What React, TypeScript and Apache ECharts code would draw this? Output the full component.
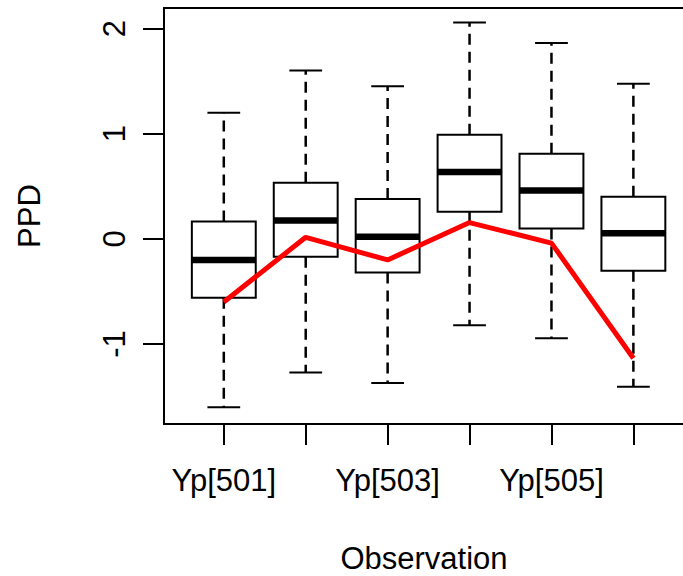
import React, { useEffect, useRef } from "react";
import * as echarts from "echarts";

const categories = ["Yp[501]", "Yp[502]", "Yp[503]", "Yp[504]", "Yp[505]", "Yp[506]"];
const shownLabelPositions = [1, 3, 5];
const positions = [1, 2, 3, 4, 5, 6];
const lowerWhisker = [-1.6, -1.27, -1.37, -0.82, -0.945, -1.405];
const q1 = [-0.56, -0.171, -0.32, 0.257, 0.098, -0.304];
const median = [-0.2, 0.174, 0.02, 0.637, 0.46, 0.054];
const q3 = [0.165, 0.533, 0.38, 0.99, 0.809, 0.4];
const upperWhisker = [1.199, 1.6, 1.45, 2.058, 1.862, 1.475];
const observed = [-0.6, 0.015, -0.2, 0.155, -0.04, -1.135];
const yTicks = [-1, 0, 1, 2];

export default function App() {
  const ref = useRef<HTMLDivElement>(null);
  useEffect(() => {
    if (!ref.current) return;
    const chart = echarts.init(ref.current, undefined, { renderer: "svg" });
    const boxData = positions.map((p, i) => [p, lowerWhisker[i], q1[i], median[i], q3[i], upperWhisker[i]]);
    const lineData = positions.map((p, i) => [p, observed[i]]);
    const boxW = 0.39;
    const capW = 0.2;
    const font = "'Liberation Sans', Arial, sans-serif";
    chart.setOption({
      animation: false,
      backgroundColor: "#fff",
      grid: {
        left: 164, top: 8, right: -11, bottom: 152,
        outerBoundsMode: "none",
        containLabel: false,
        show: true, borderColor: "#000", borderWidth: 2, backgroundColor: "transparent",
      },
      xAxis: {
        type: "value",
        min: 0.27,
        max: 6.74,
        name: "Observation",
        nameLocation: "middle",
        nameGap: 119,
        nameTextStyle: { fontFamily: font, fontSize: 31, color: "#000", padding: [0, 10, 0, 0] },
        axisLine: { show: true, onZero: false, lineStyle: { color: "#000", width: 2 } },
        splitLine: { show: false },
        axisTick: { show: true, customValues: positions, length: 21, lineStyle: { color: "#000", width: 2 } },
        axisLabel: {
          show: true,
          customValues: shownLabelPositions,
          margin: 41,
          fontFamily: font,
          fontSize: 31,
          color: "#000",
          formatter: (v: number) => categories[Math.round(v) - 1] ?? "",
        },
      },
      yAxis: {
        type: "value",
        min: -1.76,
        max: 2.195,
        name: "PPD",
        nameLocation: "middle",
        nameGap: 119.5,
        nameTextStyle: { fontFamily: font, fontSize: 31, color: "#000" },
        axisLine: { show: true, onZero: false, lineStyle: { color: "#000", width: 2 } },
        splitLine: { show: false },
        axisTick: { show: true, customValues: yTicks, length: 21, lineStyle: { color: "#000", width: 2 } },
        axisLabel: {
          show: true,
          customValues: yTicks,
          rotate: 90,
          margin: 34,
          fontFamily: font,
          fontSize: 31,
          color: "#000",
          formatter: (v: number) => String(v),
        },
      },
      series: [
        {
          type: "custom",
          data: boxData,
          encode: { x: 0, y: [1, 2, 3, 4, 5] },
          renderItem: (params: any, api: any) => {
            const x = api.value(0);
            const lo = api.coord([x, api.value(1)]);
            const b1 = api.coord([x, api.value(2)]);
            const md = api.coord([x, api.value(3)]);
            const b3 = api.coord([x, api.value(4)]);
            const hi = api.coord([x, api.value(5)]);
            const left = api.coord([x - boxW, 0])[0];
            const right = api.coord([x + boxW, 0])[0];
            const cl = api.coord([x - capW, 0])[0];
            const cr = api.coord([x + capW, 0])[0];
            const cx = lo[0];
            const thin = { stroke: "#000", lineWidth: 2, fill: "none" };
            const dashed = { stroke: "#000", lineWidth: 2.5, lineDash: [11, 7], fill: "none" };
            return {
              type: "group",
              children: [
                { type: "line", shape: { x1: cx, y1: b3[1], x2: cx, y2: hi[1] }, style: dashed },
                { type: "line", shape: { x1: cx, y1: b1[1], x2: cx, y2: lo[1] }, style: dashed },
                { type: "line", shape: { x1: cl, y1: hi[1], x2: cr, y2: hi[1] }, style: thin },
                { type: "line", shape: { x1: cl, y1: lo[1], x2: cr, y2: lo[1] }, style: thin },
                {
                  type: "rect",
                  shape: { x: left, y: b3[1], width: right - left, height: b1[1] - b3[1] },
                  style: { stroke: "#000", lineWidth: 2, fill: "#fff" },
                },
                { type: "line", shape: { x1: left, y1: md[1], x2: right, y2: md[1] }, style: { stroke: "#000", lineWidth: 6.5 } },
              ],
            };
          },
          z: 2,
        },
        {
          type: "line",
          data: lineData,
          showSymbol: false,
          symbol: "none",
          lineStyle: { color: "#ff0000", width: 5 },
          z: 3,
        },
      ],
    });
    return () => chart.dispose();
  }, []);
  return <div ref={ref} style={{ position: "fixed", left: 0, top: 0, width: 683, height: 576 }} />;
}
